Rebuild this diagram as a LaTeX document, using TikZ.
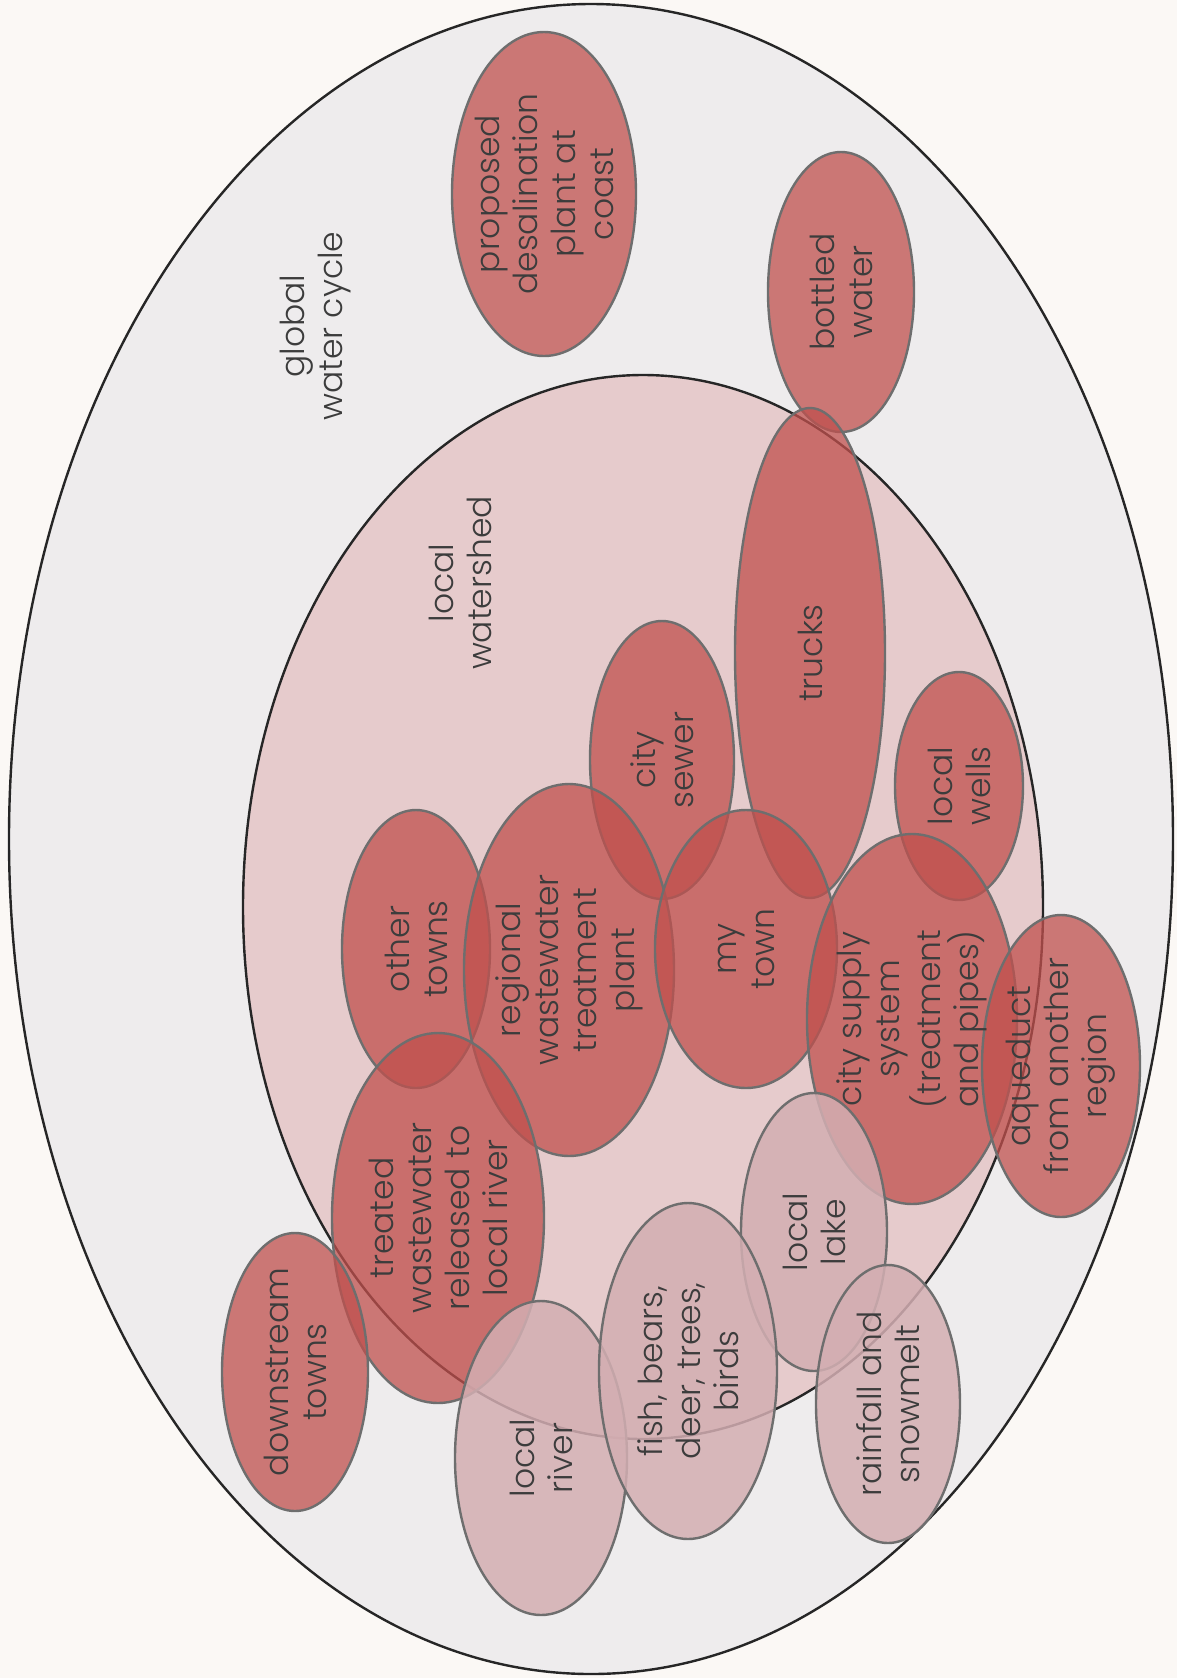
\documentclass[tikz,border=0pt]{standalone}
\usepackage{fontspec}
\IfFontExistsTF{Poppins Light}{\setmainfont{Poppins Light}}{\setmainfont{Poppins}}
\usetikzlibrary{shapes.geometric}
\definecolor{paper}{HTML}{FBF8F5}
\definecolor{globalfill}{HTML}{EEECED}
\definecolor{shedfill}{HTML}{E6CBCC}
\definecolor{rim}{HTML}{262626}
\definecolor{ovalline}{HTML}{6E6E6E}
\definecolor{hotred}{HTML}{C0504D}
\definecolor{palered}{HTML}{D3AEB2}
\definecolor{ink}{HTML}{3C3C3C}
\begin{document}
\begin{tikzpicture}[x=0.5pt,y=-0.5pt,
  oval/.style={ellipse, inner sep=0pt, outer sep=0pt, draw=ovalline, line width=1.2pt},
  hot/.style={oval, fill=hotred, fill opacity=0.75},
  pale/.style={oval, fill=palered, fill opacity=0.85},
  region/.style={ellipse, inner sep=0pt, outer sep=0pt, draw=rim, line width=1.2pt},
  lbl/.style={rotate=90, align=center, text=ink, inner sep=0pt,
    font=\fontsize{16.5}{19}\selectfont}]
\fill[paper] (0,0) rectangle (1177,1678);
\useasboundingbox (0,0) rectangle (1177,1678);

% nested regions
\node[region, fill=globalfill, minimum width=582pt, minimum height=835pt] (global) at (591,839) {};
\node[region, fill=shedfill, minimum width=400pt, minimum height=532pt] (shed) at (643,907) {};

% built and human water systems
\node[hot, minimum width=92pt, minimum height=162pt] (desal) at (544,194) {};
\node[hot, minimum width=73pt, minimum height=140pt] (bottled) at (841,292) {};
\node[hot, minimum width=75pt, minimum height=245pt] (trucks) at (810,653) {};
\node[hot, minimum width=72pt, minimum height=139pt] (sewer) at (662,760) {};
\node[hot, minimum width=64pt, minimum height=114pt] (wells) at (959,786) {};
\node[hot, minimum width=74pt, minimum height=139pt] (others) at (416,949) {};
\node[hot, minimum width=105pt, minimum height=186pt] (plant) at (569,970) {};
\node[hot, minimum width=91pt, minimum height=139pt] (mytown) at (746,949) {};
\node[hot, minimum width=105pt, minimum height=185pt] (supply) at (912,1019) {};
\node[hot, minimum width=79pt, minimum height=151pt] (aqueduct) at (1061,1066) {};
\node[hot, minimum width=106pt, minimum height=185pt] (treated) at (438,1218) {};
\node[hot, minimum width=73pt, minimum height=139pt] (downstream) at (295,1372) {};

% natural water bodies and life
\node[pale, minimum width=73pt, minimum height=139pt] (lake) at (814,1232) {};
\node[pale, minimum width=86pt, minimum height=157pt] (river) at (541,1458) {};
\node[pale, minimum width=89pt, minimum height=168pt] (wildlife) at (688,1371) {};
\node[pale, minimum width=72pt, minimum height=139pt] (rain) at (888,1404) {};

% labels
\node[lbl] (global-t) at (316,326) {global\\water cycle};
\node[lbl] (shed-t) at (460,583) {local\\watershed};
\node[lbl] at (desal) {proposed\\desalination\\plant at\\coast};
\node[lbl] at (bottled) {bottled\\water};
\node[lbl] at (trucks) {trucks};
\node[lbl] at (sewer) {city\\sewer};
\node[lbl] at (wells) {local\\wells};
\node[lbl] at (others) {other\\towns};
\node[lbl] at (plant) {regional\\wastewater\\treatment\\plant};
\node[lbl] at (mytown) {my\\town};
\node[lbl] at (supply) {city supply\\system\\(treatment\\and pipes)};
\node[lbl] at (aqueduct) {aqueduct\\from another\\region};
\node[lbl] at (treated) {treated\\wastewater\\released to\\local river};
\node[lbl] at (downstream) {downstream\\towns};
\node[lbl] at (lake) {local\\lake};
\node[lbl] at (river) {local\\river};
\node[lbl] at (wildlife) {fish, bears,\\deer, trees,\\birds};
\node[lbl] at (rain) {rainfall and\\snowmelt};
\end{tikzpicture}
\end{document}
